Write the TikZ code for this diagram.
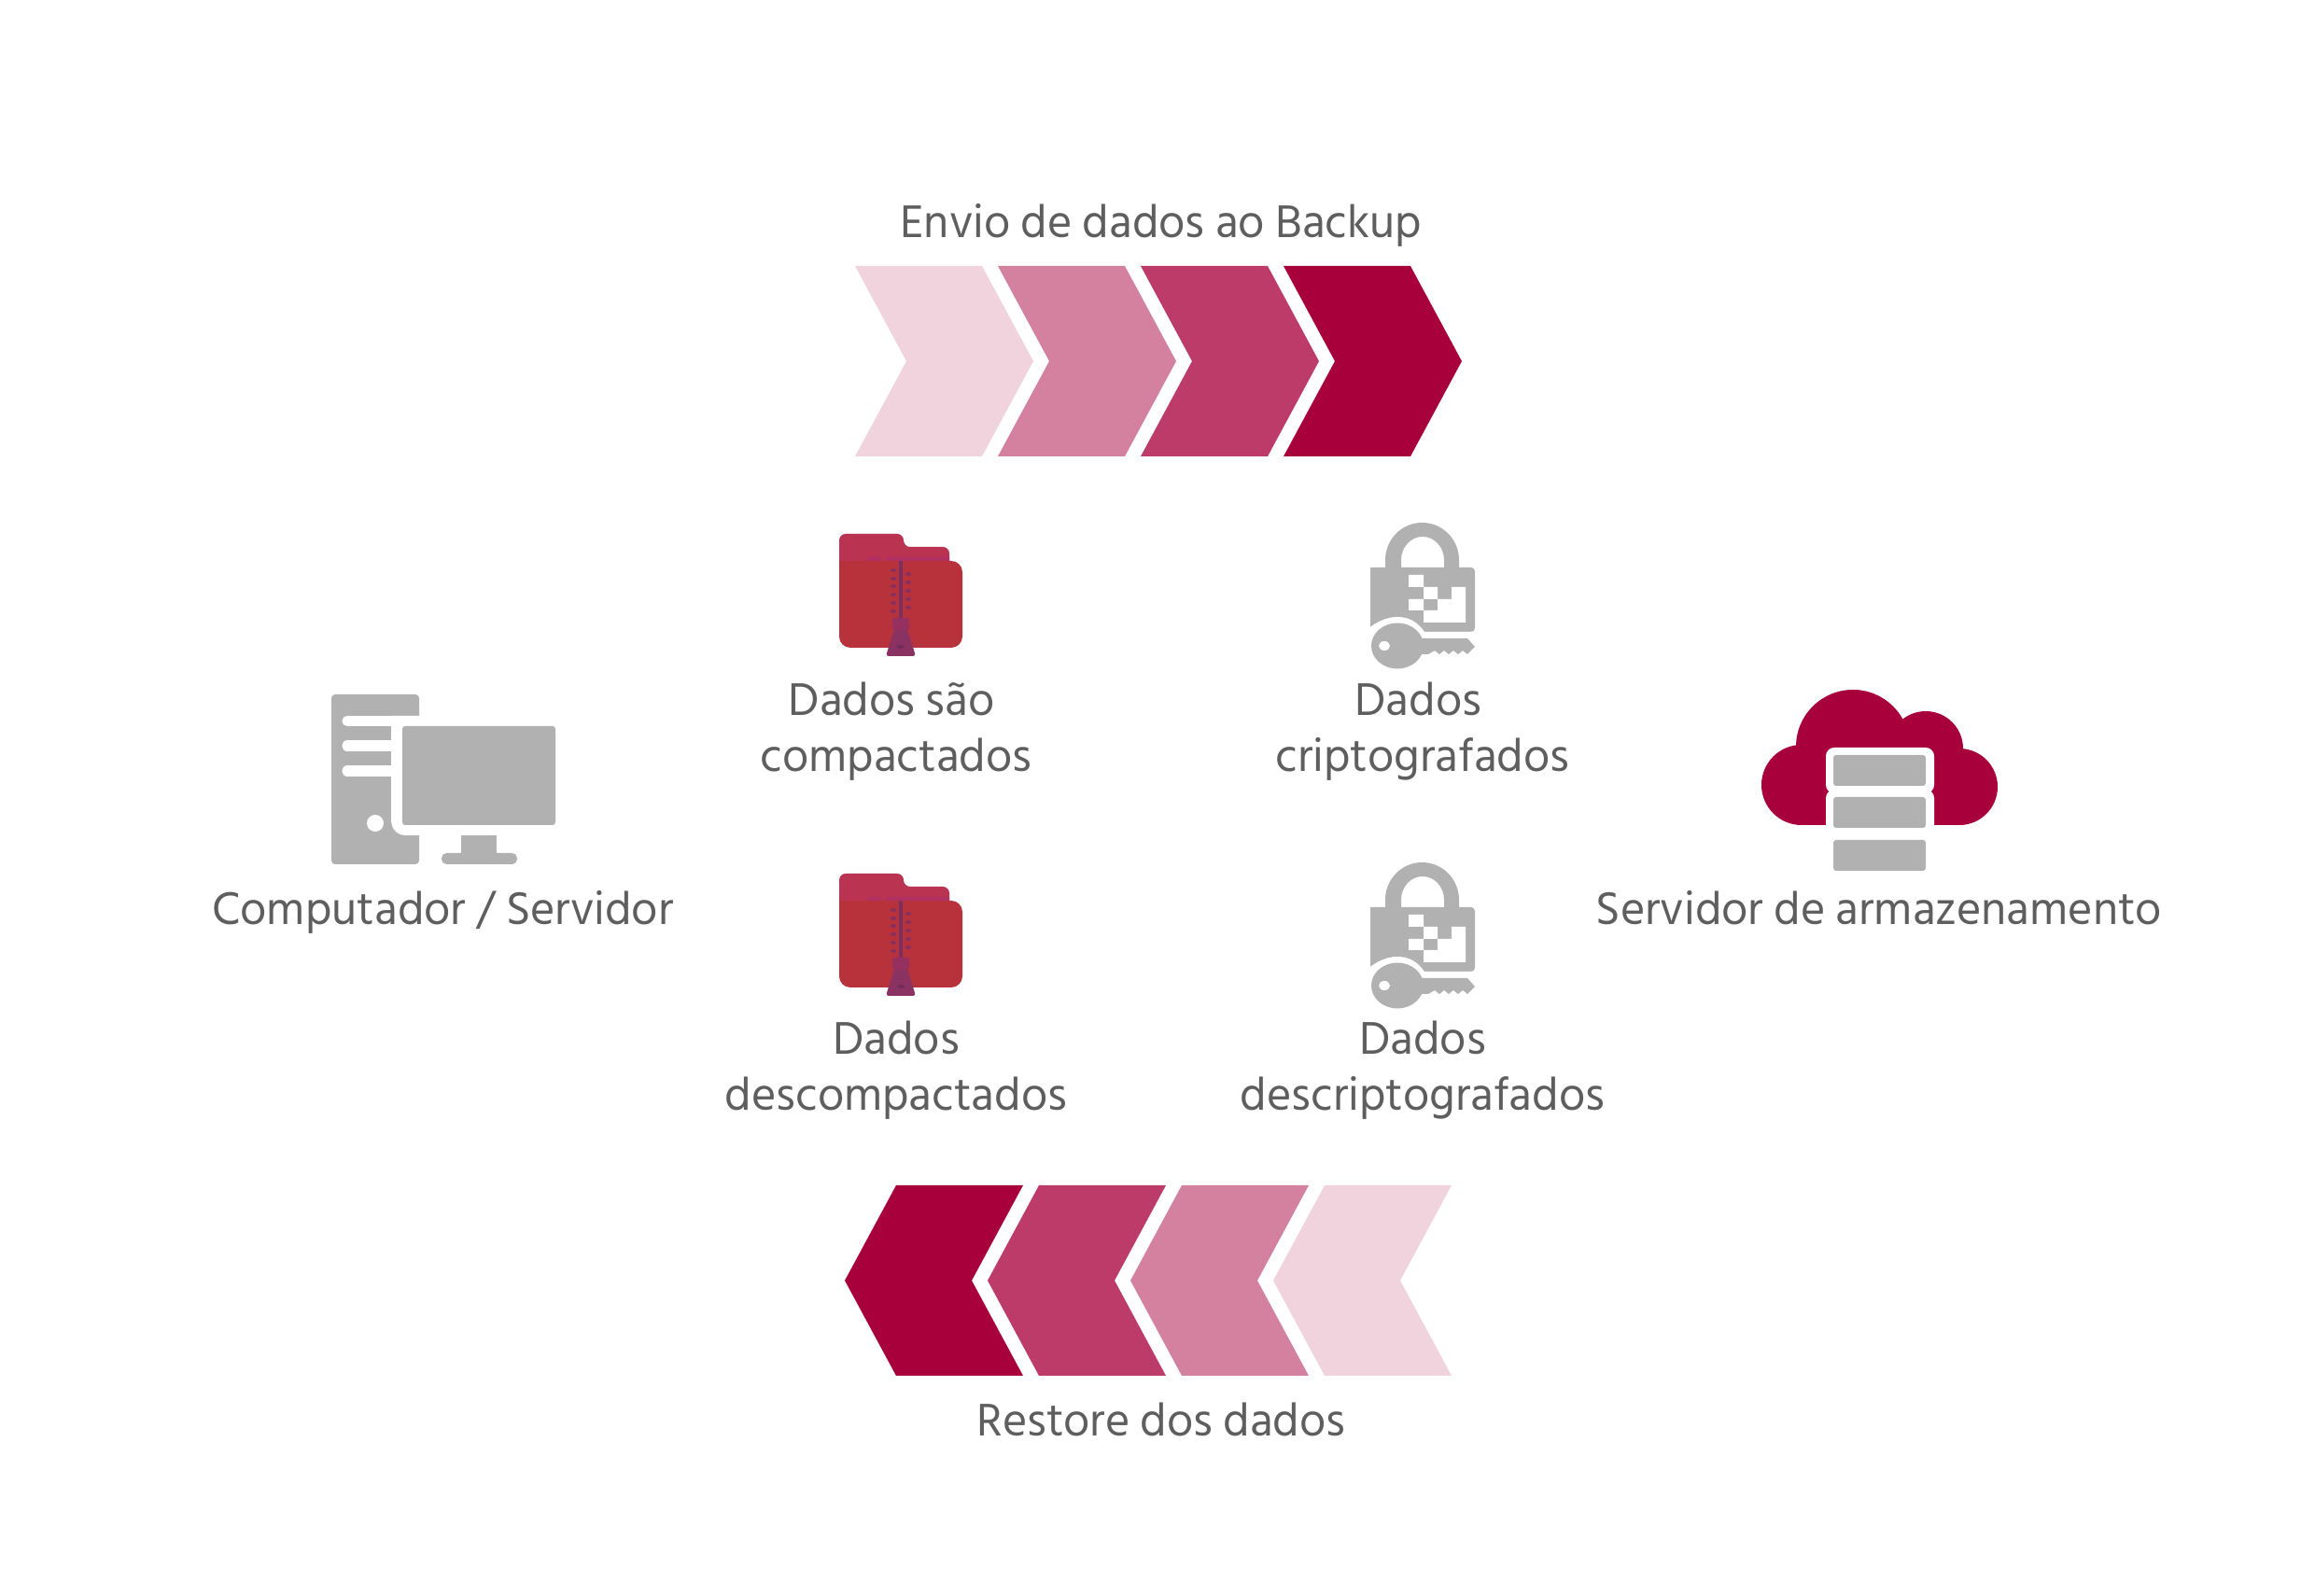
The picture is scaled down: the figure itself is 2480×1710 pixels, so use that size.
\documentclass[tikz,border=0pt]{standalone}
\usepackage{fontspec}
\setmainfont{Hind Siliguri}
\definecolor{chevA}{HTML}{F1D3DE}
\definecolor{chevB}{HTML}{D4819F}
\definecolor{chevC}{HTML}{BC3B69}
\definecolor{chevD}{HTML}{A8003B}
\definecolor{icongray}{HTML}{B1B1B1}
\definecolor{textgray}{HTML}{5E5E5E}
\tikzset{
	caption/.style = {text = textgray, inner sep = 0pt, anchor = base, align = center,
		font = \fontsize{14.3}{17.2}\selectfont},
	foldericon/.pic = {
		\fill [fill = {rgb,255:red,186;green,51;blue,80}, rounded corners = 0.07cm] (899,620) -- (899,572) -- (968,572) -- (968,586) -- (1017,586) -- (1017,620) -- cycle;
		\fill [fill = {rgb,255:red,176;green,48;blue,100}] (930,597) rectangle (943,601) (949,597) rectangle (1017,601);
		\fill [fill = {rgb,255:red,184;green,50;blue,59}, rounded corners = 0.12cm] (899,620) -- (899,694) -- (1031,694) -- (1031,601) -- (940,601) -- cycle;
		\fill [fill = {rgb,255:red,184;green,50;blue,59}] (899,601) rectangle (960,640);
		\fill [fill = {rgb,255:red,123;green,48;blue,96}] (963,601) rectangle (967,662);
		\foreach \y in {611,620,628,637,646,655}
			\fill [fill = {rgb,255:red,135;green,48;blue,96}] (957,\y) ellipse (3 and 2);
		\foreach \y in {615,624,633,642,651}
			\fill [fill = {rgb,255:red,135;green,48;blue,96}] (973,\y) ellipse (3 and 2);
		\fill [fill = {rgb,255:red,138;green,50;blue,98}, rounded corners = 0.03cm] (958,674) -- (972,674) -- (981,703) -- (949,703) -- cycle;
		\fill [fill = {rgb,255:red,150;green,48;blue,96}, rounded corners = 0.02cm] (956,662) rectangle (974,675);
		\fill [fill = {rgb,255:red,115;green,44;blue,90}] (965,693) ellipse (4 and 2);
	},
	lockicon/.pic = {
		\fill [icongray] (1484,610) -- (1484,600) arc (180:360:39.5 and 40) -- (1563,610) -- (1547,610) -- (1547,600) arc (360:180:23 and 25) -- (1501,610) -- cycle;
		\fill [icongray, rounded corners = 0.04cm] (1468,608) -- (1580,608) -- (1580,677) -- (1468,677) -- cycle;
		\fill [icongray] (1468,608) rectangle (1480,677);
		\fill [white] (1509,616) rectangle (1525,629) (1525,629) rectangle (1540,642) (1509,642) rectangle (1525,654);
		\fill [white] (1525,654) -- (1540,654) -- (1540,642) -- (1555,642) -- (1555,629) -- (1570,629) -- (1570,667) -- (1525,667) -- cycle;
		\fill [white] (1465,674) .. controls (1475,666) and (1486,661) .. (1497,661) .. controls (1510,661) and (1519,667) .. (1526,677) -- (1580,677) -- (1580,684) -- (1465,684) -- cycle;
		\fill [icongray] (1497,692) ellipse (28 and 24.5);
		\fill [icongray] (1515,684) -- (1572,684) -- (1580,693) -- (1572,701) -- (1567,697) -- (1562,701) -- (1557,697) -- (1552,701) -- (1547,697) -- (1542,701) -- (1537,697) -- (1530,701) -- (1515,701) -- cycle;
		\fill [white] (1483,692) ellipse (6 and 5);
	},
	slotline/.style = {white, line width = 0.113cm, line cap = round},
}
\begin{document}
\begin{tikzpicture}[x = 0.01cm, y = -0.01cm]
	\useasboundingbox (0,0) rectangle (2480,1710);
	\foreach \x/\c in {916/chevA,1069/chevB,1222/chevC,1375/chevD}
		\fill [\c] (\x,285) -- ++(136,0) -- ++(55,102) -- ++(-55,102) -- ++(-136,0) -- ++(55,-102) -- cycle;
	\foreach \x/\c in {905/chevD,1058/chevC,1211/chevB,1364/chevA}
		\fill [\c] (\x,1372) -- ++(55,-102) -- ++(136,0) -- ++(-55,102) -- ++(55,102) -- ++(-136,0) -- cycle;

	\pic at (0,0) {foldericon};
	\pic at (0,364) {foldericon};
	\pic at (0,0) {lockicon};
	\pic at (0,364) {lockicon};

	\fill [icongray, rounded corners = 0.04cm] (355,744) rectangle (449,926);
	\fill [white] (455,767) -- (419,767) -- (419,878) .. controls (419,888) and (425,895) .. (435,895) -- (455,895) -- cycle;
	\foreach \y in {772.5,799,826}
		\draw [slotline] (372,\y) -- (420,\y);
	\fill [white] (402,882) circle (9);
	\fill [icongray, rounded corners = 0.03cm] (431,778) rectangle (595,884);
	\fill [icongray] (494,895) rectangle (532,916);
	\fill [icongray, rounded corners = 0.055cm] (473,914) rectangle (554,926);

	\foreach \x/\y/\r in {1930/841/43,1985/800/61,2063/802/40,2099/843/41}
		\fill [chevD] (\x,\y) circle (\r);
	\fill [chevD] (1930,800) rectangle (2099,884);
	\fill [white, rounded corners = 0.09cm] (1956,801) rectangle (2072,850);
	\fill [white, rounded corners = 0.09cm] (1956,846) rectangle (2072,900);
	\foreach \y in {809,854,900}
		\fill [icongray, rounded corners = 0.03cm] (1964,\y) rectangle (2063,\y+33);

	\node [caption] (envio) at (1244,254.5) {Envio de dados ao Backup};
	\node [caption] (restore) at (1244,1539) {Restore dos dados};
	\node [caption] (computador) at (474.5,990.5) {Computador / Servidor};
	\node [caption] (servidor) at (2013,990.5) {Servidor de armazenamento};
	\node [caption] (compactados) at (960,826.5) {Dados são\hspace*{0.095cm}\\compactados};
	\node [caption] (criptografados) at (1524,826.5) {Dados\hspace*{0.095cm}\\criptografados};
	\node [caption] (descompactados) at (960,1190) {Dados\\descompactados};
	\node [caption] (descriptografados) at (1524,1190) {Dados\\descriptografados};
\end{tikzpicture}
\end{document}
